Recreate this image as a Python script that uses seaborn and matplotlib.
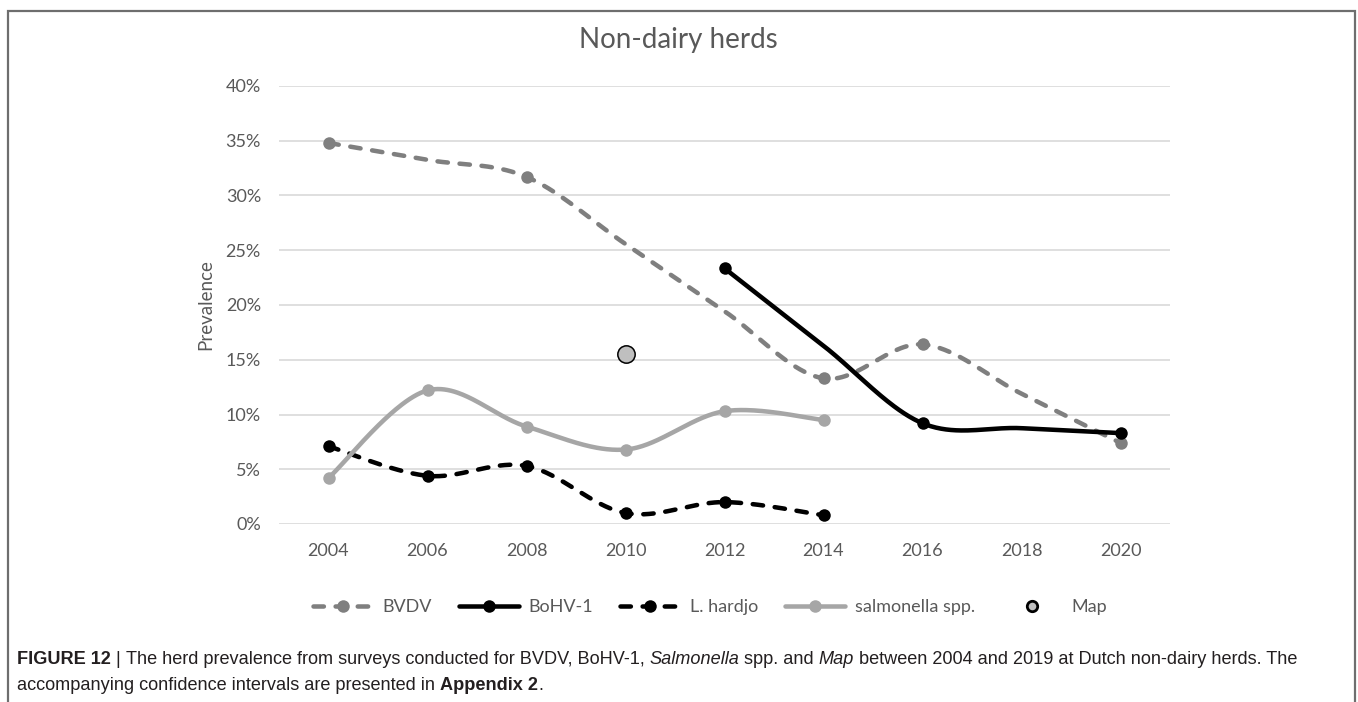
import numpy as np
import pandas as pd
import matplotlib
matplotlib.use("Agg")
import matplotlib.pyplot as plt
import seaborn as sns
from matplotlib.lines import Line2D
from matplotlib import font_manager

# ---- survey results (herd prevalence, %) ----
bvdv_years = [2004, 2008, 2014, 2016, 2020]
bvdv_prev = [34.8, 31.7, 13.3, 16.4, 7.4]

bohv_years = [2012, 2016, 2020]
bohv_prev = [23.35, 9.2, 8.3]

hardjo_years = [2004, 2006, 2008, 2010, 2012, 2014]
hardjo_prev = [7.1, 4.4, 5.3, 1.0, 2.0, 0.8]

salm_years = [2004, 2006, 2008, 2010, 2012, 2014]
salm_prev = [4.2, 12.2, 8.9, 6.8, 10.3, 9.5]

map_years = [2010]
map_prev = [15.5]

year_ticks = [2004, 2006, 2008, 2010, 2012, 2014, 2016, 2018, 2020]
pct_ticks = [0, 5, 10, 15, 20, 25, 30, 35, 40]

TEXT = "#595959"
GRID = "#d9d9d9"

sns.set_theme(style="white")
plt.rcParams["font.family"] = ["Lato", "DejaVu Sans"]

W, H = 1358, 702
fig = plt.figure(figsize=(W / 100, H / 100), dpi=100)
fig.patch.set_facecolor("white")

ax_l, ax_r, ax_t, ax_b = 279, 1170, 86, 524
ax = fig.add_axes([ax_l / W, 1 - ax_b / H, (ax_r - ax_l) / W, (ax_b - ax_t) / H])


def smooth_path(xs, ys, categories, n=60):
    """Smoothed line path on a category axis.

    Empty categories between observations are bridged along the straight
    connector, then a cardinal Bezier spline (tension 1/6) runs through
    every category position, as spreadsheet charts draw smoothed lines.
    """
    xs = np.asarray(xs, float)
    ys = np.asarray(ys, float)
    cats = np.asarray([c for c in categories if xs[0] <= c <= xs[-1]], float)
    knots = np.column_stack([cats, np.interp(cats, xs, ys)])
    out = [knots[0]]
    t = np.linspace(0, 1, n)[1:, None]
    for i in range(len(knots) - 1):
        p0 = knots[i - 1] if i > 0 else knots[i]
        p1, p2 = knots[i], knots[i + 1]
        p3 = knots[i + 2] if i + 2 < len(knots) else knots[i + 1]
        c1 = p1 + (p2 - p0) / 6.0
        c2 = p2 - (p3 - p1) / 6.0
        seg = ((1 - t) ** 3) * p1 + 3 * ((1 - t) ** 2) * t * c1 \
            + 3 * (1 - t) * t ** 2 * c2 + t ** 3 * p2
        out.extend(seg)
    out = np.array(out)
    return pd.DataFrame({"year": out[:, 0], "prev": out[:, 1]})


LW = 3.25
MS = 9.0
dash = (0, (2.3, 2.6))

series = [
    ("BVDV", bvdv_years, bvdv_prev, "#7f7f7f", dash),
    ("BoHV-1", bohv_years, bohv_prev, "#000000", "-"),
    ("L. hardjo", hardjo_years, hardjo_prev, "#000000", dash),
    ("salmonella spp.", salm_years, salm_prev, "#a6a6a6", "-"),
]

handles = []
for k, (name, xs, ys, col, ls) in enumerate(series):
    curve = smooth_path(xs, ys, year_ticks)
    sns.lineplot(data=curve, x="year", y="prev", ax=ax, sort=False, estimator=None,
                 color=col, linewidth=LW, linestyle=ls, dash_capstyle="round",
                 solid_capstyle="round", zorder=3 + 2 * k)
    pts = pd.DataFrame({"year": xs, "prev": ys})
    sns.scatterplot(data=pts, x="year", y="prev", ax=ax, color=col, s=MS ** 2,
                    linewidth=0, zorder=4 + 2 * k)
    handles.append(Line2D([], [], color=col, linewidth=LW, linestyle=ls,
                          dash_capstyle="round", marker="o", markersize=MS,
                          markeredgewidth=0, markerfacecolor=col))

map_df = pd.DataFrame({"year": map_years, "prev": map_prev})
sns.scatterplot(data=map_df, x="year", y="prev", ax=ax, color="#bfbfbf", s=12.5 ** 2,
                edgecolor="#000000", linewidth=1.1, zorder=12)
handles.append(Line2D([], [], linestyle="none", marker="o", markersize=7.5,
                      markerfacecolor="#bfbfbf", markeredgecolor="#000000",
                      markeredgewidth=2.0))

ax.set_xlim(2003, 2021)
ax.set_ylim(0, 40)
ax.set_xticks(year_ticks)
ax.set_xticklabels([str(y) for y in year_ticks])
ax.set_yticks(pct_ticks)
ax.set_yticklabels([f"{p}%" for p in pct_ticks])
ax.yaxis.grid(True, color=GRID, linewidth=1.2)
ax.xaxis.grid(False)
for s in ax.spines.values():
    s.set_visible(False)
ax.tick_params(axis="both", length=0, labelsize=13, labelcolor=TEXT)
ax.tick_params(axis="y", pad=13)
ax.tick_params(axis="x", pad=14)
ax.set_xlabel("")
ax.set_ylabel("")
ax.set_facecolor("none")

fig.text(678 / W, 1 - 40 / H, "Non-dairy herds", fontsize=20, color=TEXT,
         ha="center", va="center")
fig.text(206 / W, 1 - 305 / H, "Prevalence", fontsize=13.5, color=TEXT,
         rotation=90, ha="center", va="center")

labels = [s[0] for s in series] + ["Map"]
fig.legend(handles, labels, loc="center", bbox_to_anchor=(710 / W, 1 - 607 / H),
           ncol=5, frameon=False, fontsize=13, labelcolor=TEXT,
           handlelength=3.3, handletextpad=0.55, columnspacing=1.5, numpoints=1)

# ---- caption ----
available = {f.name for f in font_manager.fontManager.ttflist}
cap_family = "Liberation Sans Narrow" if "Liberation Sans Narrow" in available else "Liberation Sans"
CAP = "#231f20"

line1 = [("FIGURE 12", "bold", "normal"), (" | ", "normal", "normal"),
         ("The herd prevalence from surveys conducted for BVDV, BoHV-1, ", "normal", "normal"),
         ("Salmonella", "normal", "italic"), (" spp. and ", "normal", "normal"),
         ("Map", "normal", "italic"),
         (" between 2004 and 2019 at Dutch non-dairy herds. The", "normal", "normal")]
line2 = [("accompanying confidence intervals are presented in ", "normal", "normal"),
         ("Appendix 2", "bold", "normal"), (".", "normal", "normal")]

renderer = fig.canvas.get_renderer()


def run_width(text, size, weight, style):
    probe = fig.text(0, 0, text + "|", fontsize=size, fontweight=weight, fontstyle=style,
                     family=cap_family)
    bar = fig.text(0, 0, "|", fontsize=size, fontweight=weight, fontstyle=style,
                   family=cap_family)
    w = probe.get_window_extent(renderer).width - bar.get_window_extent(renderer).width
    probe.remove()
    bar.remove()
    return w


def draw_line(runs, x0, y, size):
    x = x0
    for text, weight, style in runs:
        fig.text(x / W, 1 - y / H, text, fontsize=size, fontweight=weight, fontstyle=style,
                 family=cap_family, color=CAP, ha="left", va="center")
        x += run_width(text, size, weight, style)
    return x


base = 12.0
total = sum(run_width(t, base, w, s) for t, w, s in line1)
cap_size = base * (1302 - 17) / total
draw_line(line1, 17, 660, cap_size)
draw_line(line2, 17, 685, cap_size)

# ---- outer frame ----
frame_col = "#6e6e6e"
fx0, fx1, fy0 = 8 / W, 1355 / W, 1 - 11 / H
fig.add_artist(Line2D([fx0, fx0, fx1, fx1], [0, fy0, fy0, 0], transform=fig.transFigure,
                      color=frame_col, linewidth=1.6, solid_joinstyle="miter"))

fig.savefig("out.png", dpi=100, facecolor="white")
